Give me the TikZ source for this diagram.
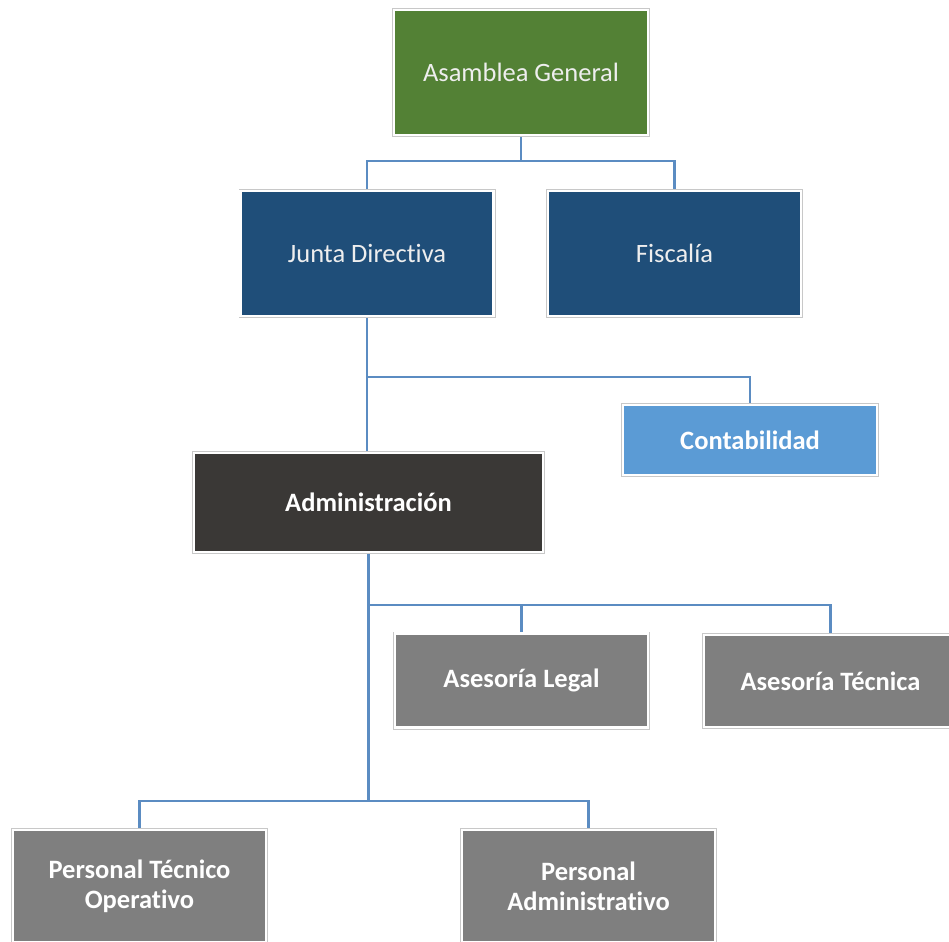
\documentclass[tikz,border=0pt]{standalone}
\usepackage{fontspec}
\setmainfont{Carlito}[Ligatures=NoCommon]
\usetikzlibrary{backgrounds}
\definecolor{agGreen}{HTML}{538135}
\definecolor{jdBlue}{HTML}{1F4E79}
\definecolor{coBlue}{HTML}{5B9BD5}
\definecolor{adDark}{HTML}{3A3836}
\definecolor{staffGray}{HTML}{7F7F7F}
\definecolor{edgeGray}{HTML}{C8C8C8}
\definecolor{linkBlue}{HTML}{5B8CC2}
\definecolor{softWhite}{HTML}{EEEEEE}
\tikzset{
  unit/.style={rectangle, inner sep=0pt, align=center, anchor=center,
    draw=white, line width=2.4pt,
    preaction={draw=edgeGray, line width=4pt},
    font=\fontsize{26.5}{31}\selectfont},
  plain/.style={unit, text=softWhite},
  strong/.style={unit, text=white, font=\fontsize{26.5}{30}\selectfont\bfseries},
  link/.style={draw=linkBlue, line width=2.6pt}
}
\begin{document}
\begin{tikzpicture}[x=1pt,y=-1pt]
\useasboundingbox (0,0) rectangle (949,941);

% organisational units
\node[plain, fill=agGreen, minimum width=254pt, minimum height=125pt] (AG) at (521,72.5) {Asamblea General};
\node[plain, fill=jdBlue, minimum width=253pt, minimum height=125pt] (JD) at (367,253.5) {Junta Directiva};
\node[plain, fill=jdBlue, minimum width=253pt, minimum height=125pt] (FI) at (674.5,253.5) {Fiscalía};
\node[strong, fill=coBlue, minimum width=254pt, minimum height=70pt] (CO) at (750,440) {Contabilidad};
\node[strong, fill=adDark, minimum width=349pt, minimum height=99pt] (AD) at (368.5,502.5) {Administración};
\node[strong, fill=staffGray, minimum width=253pt, minimum height=94pt] (AL) at (521.5,680.5) {Asesoría Legal};
\node[strong, fill=staffGray, minimum width=253pt, minimum height=92pt] (AT) at (830.5,681) {Asesoría Técnica};
\node[strong, fill=staffGray, minimum width=253pt, minimum height=112pt] (PT) at (139.5,886) {Personal Técnico\\Operativo};
\node[strong, fill=staffGray, minimum width=253pt, minimum height=112pt] (PA) at (588.5,886) {Personal\\Administrativo};

% bus levels
\coordinate (busA) at (0,161);
\coordinate (busB) at (0,377);
\coordinate (busC) at (0,605);
\coordinate (busD) at (0,801);

\begin{scope}[on background layer]
  \draw[link] (AG.south) -- (AG.south |- busA) -| (JD.north);
  \draw[link] (AG.south |- busA) -| (FI.north);
  \draw[link] (JD.south) -- (JD.south |- AD.north);
  \draw[link] (JD.south |- busB) -| (CO.north);
  \draw[link] (AD.south) -- (AD.south |- busD);
  \draw[link] (AD.south |- busC) -| (AL.north);
  \draw[link] (AD.south |- busC) -| (AT.north);
  \draw[link] (AD.south |- busD) -| (PT.north);
  \draw[link] (AD.south |- busD) -| (PA.north);
\end{scope}
\end{tikzpicture}
\end{document}
